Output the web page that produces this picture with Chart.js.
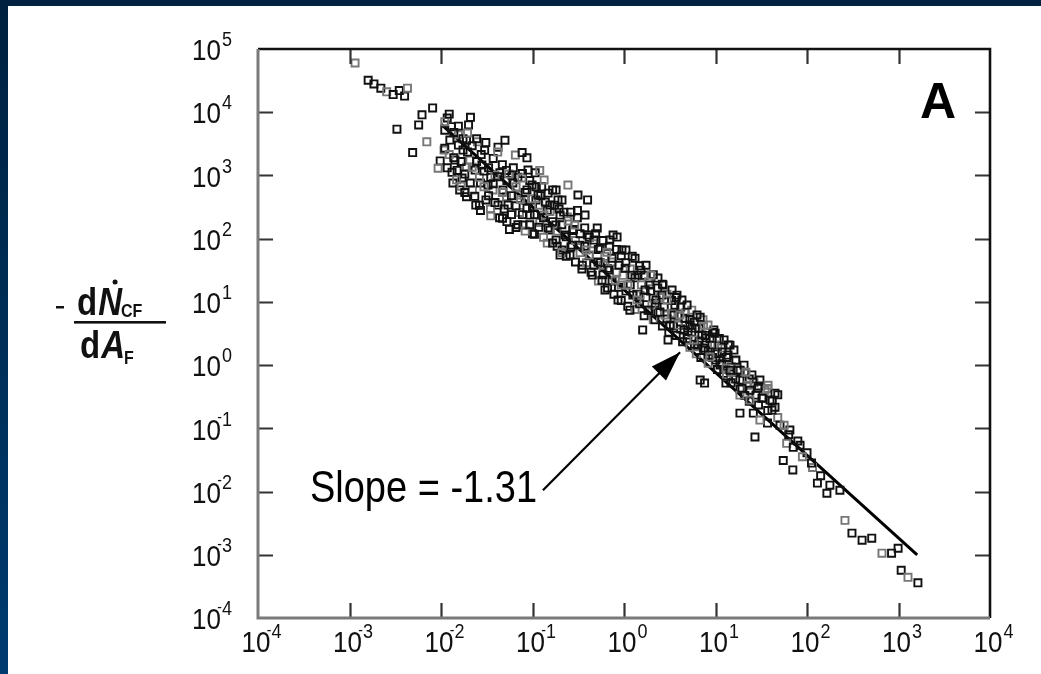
<!DOCTYPE html>
<html><head><meta charset="utf-8">
<script src="https://cdn.jsdelivr.net/npm/chart.js@4.4.1/dist/chart.umd.min.js"></script>
<style>
html,body{margin:0;padding:0;background:#fff;width:1041px;height:674px;overflow:hidden;}
#wrap{position:absolute;left:0;top:0;width:1041px;height:674px;}
#topbar{position:absolute;left:0;top:0;width:1041px;height:6px;background:#00213f;}
#leftbar{position:absolute;left:0;top:0;width:8px;height:674px;background:linear-gradient(#00213f,#003b70);}
</style></head><body>
<div id="wrap"><canvas id="c" width="1041" height="674"></canvas></div>
<div id="topbar"></div><div id="leftbar"></div>
<script>
// ---- data ----
const xTickExps = [-4,-3,-2,-1,0,1,2,3,4];
const yTickExps = [-4,-3,-2,-1,0,1,2,3,4,5];
const xTickValues = [1e-4,1e-3,1e-2,1e-1,1,1e1,1e2,1e3,1e4];
const yTickValues = [1e-4,1e-3,1e-2,1e-1,1,1e1,1e2,1e3,1e4,1e5];

const upperPoints = [
 [1.15e-3,6.0e4],[1.6e-3,3.2e4],[1.85e-3,2.8e4],[2.2e-3,2.4e4],[2.55e-3,2.1e4],[3.0e-3,1.9e4],
 [3.5e-3,2.2e4],[4.0e-3,1.8e4],[4.3e-3,2.4e4],[3.3e-3,5.4e3],[4.9e-3,2.3e3],[5.7e-3,6.3e3],
 [7.0e-3,3.4e3],[6.2e-3,9.1e3],[8.1e-3,1.17e4],[9.8e-3,1.7e3],[9.3e-3,1.3e3],[1.1e-2,5.2e3],
 [1.3e-2,5.9e3],[1.17e-2,8.1e3],[1.55e-2,4.4e3],[2.1e-2,8.3e3],[2.0e-2,6.3e3],[1.9e-2,3.6e3],
 [2.5e-2,3.4e3],[3.0e-2,2.5e3],[4.2e-2,2.8e3],[5.0e-2,3.6e3],[6.5e-2,2.1e3],[8.7e-2,1.9e3],
 [7.7e-2,2.3e3],[0.107,1.1e3],[0.12,1.2e3],[0.126,660],[0.166,590],[1.5e-2,1.2e3],
 [1.9e-2,1.35e3],[1.35e-2,760],[1.7e-2,910],[1.9e-2,460],[2.2e-2,590],[2.7e-2,760],
 [2.7e-2,280],[3.1e-2,410],[3.7e-2,590],[3.5e-2,930],[4.4e-2,1.1e3],[5.2e-2,1.2e3],
 [5.2e-2,460],[6.1e-2,760],[4.2e-2,340],[5.6e-2,140],[7.2e-2,260],[8.7e-2,590],
 [0.1,320],[0.1,120],[0.145,85],[0.145,280],[0.19,410],[0.21,66],[0.24,220],[0.28,140],
 [0.31,280],[0.18,165],[0.12,180],[8.3e-2,410],[6.6e-2,150],[4.7e-2,210],[3.5e-2,230],
 [2.4e-2,340],[1.6e-2,590],[0.40,410],
 [0.0108,2520],[0.0125,3630],[0.0142,1750],[0.0174,2520],[0.0207,1750],[0.0236,1216],
 [0.028,1460],[0.0327,705],[0.0389,1010],[0.0476,587],[0.054,340],[0.0597,1010],
 [0.0695,490],[0.0787,164],[0.094,236],[0.109,408],[0.134,236],[0.155,137],[0.181,95],[0.20,55]
];
const densePoints = [
 [1.10e-2,7.08e3],[1.10e-2,2.69e3],[1.17e-2,1.32e3],[1.23e-2,9.33e3],[1.23e-2,2.14e3],
 [1.32e-2,1.12e3],[1.38e-2,4.79e3],[1.38e-2,1.91e3],[1.48e-2,851],[1.55e-2,6.03e3],
 [1.55e-2,3.02e3],[1.66e-2,1.66e3],[1.66e-2,676],[1.74e-2,3.80e3],[1.82e-2,1.05e3],
 [1.82e-2,537],[1.95e-2,4.68e3],[1.95e-2,2.34e3],[2.09e-2,759],[2.19e-2,2.95e3],
 [2.19e-2,1.35e3],[2.34e-2,468],[2.45e-2,3.80e3],[2.45e-2,1.66e3],[2.63e-2,933],
 [2.63e-2,339],[2.75e-2,2.14e3],[2.95e-2,1.17e3],[2.95e-2,661],[3.09e-2,3.31e3],
 [3.31e-2,1.32e3],[3.31e-2,479],[3.47e-2,295],[3.72e-2,1.86e3],[3.72e-2,741],[3.89e-2,372],
 [4.17e-2,2.34e3],[4.17e-2,955],[4.37e-2,214],[4.68e-2,1.48e3],[4.68e-2,537],[4.90e-2,295],
 [5.25e-2,832],[5.25e-2,186],[5.50e-2,1.05e3],[5.89e-2,479],[5.89e-2,240],[6.17e-2,1.32e3],
 [6.61e-2,661],[6.61e-2,331],[6.92e-2,933],[6.92e-2,166],[7.41e-2,417],[7.76e-2,1.07e3],
 [7.76e-2,240],[8.32e-2,537],[8.32e-2,132],[8.71e-2,302],[9.33e-2,832],[9.33e-2,166],
 [9.77e-2,427],[0.105,240],[0.105,117],[0.110,661],[0.117,339],[0.117,151],[0.123,479],
 [0.132,214],[0.132,105],[0.138,380],[0.148,525],[0.148,148],[0.155,269],[0.166,186],
 [0.166,85.1],[0.174,339],[0.186,132],[0.186,75.9],[0.195,295],[0.209,166],[0.209,60.3],
 [0.219,263],[0.234,107],[0.234,52.5],[0.245,191],[0.263,263],[0.263,74.1],[0.275,135],
 [0.295,93.3],[0.295,42.7],[0.309,214],[0.331,120],[0.331,60.3],[0.347,33.1],[0.372,148],
 [0.372,75.9],[0.389,41.7],[0.417,105],[0.417,53.7],[0.437,29.5],[0.468,83.2],[0.468,38.0],
 [0.490,120],[0.525,67.6],[0.525,21.4],[0.550,41.7],[0.589,93.3],[0.589,26.9],[0.617,52.5],
 [0.661,33.9],[0.661,16.6],[0.692,75.9],[0.741,42.7],[0.741,21.4],[0.776,13.2],[0.832,67.6],
 [0.832,29.5],[0.871,17.0],[0.933,53.7],[0.933,10.5],[0.977,26.3],[1.05,41.7],[1.05,14.8],
 [1.10,8.51],[1.17,33.1],[1.17,18.6],[1.23,52.5],[1.32,24.0],[1.32,7.59],[1.38,13.2],
 [1.48,37.2],[1.48,9.33],[1.55,18.6],[1.66,26.3],[1.66,6.03],[1.74,11.7],[1.86,20.9],
 [1.86,7.41],[1.95,14.8],[2.09,26.9],[2.09,5.25],[2.19,9.55],[2.34,16.6],[2.34,6.76],
 [2.45,11.7],[2.63,19.1],[2.63,4.17],[2.75,8.32],[2.95,13.2],[2.95,5.37],[3.09,3.31],
 [3.31,10.5],[3.31,6.61],[3.47,4.17],[3.72,11.7],[3.72,2.95],[3.89,5.89],[4.17,8.32],
 [4.17,3.72],[4.37,2.34],[4.68,6.76],[4.68,4.27],[4.90,2.63],[5.25,5.25],[5.25,1.91],
 [5.50,3.31],[5.89,4.79],[5.89,2.14],[6.17,1.51],[6.61,3.80],[6.61,2.40],[6.92,1.32],
 [7.41,4.27],[7.41,1.86],[7.76,2.95],[8.32,1.66],[8.32,1.07],[8.71,2.63],[9.33,3.31],
 [9.33,1.32],[9.77,2.09],[10.5,1.51],[10.5,0.851],[11.0,2.63],[11.7,1.86],[11.7,1.05],
 [12.3,0.741],[13.2,1.32],[13.2,0.661],[13.8,2.09],[14.8,0.933],[14.8,0.525],[16.6,1.17],
 [16.6,0.603],[18.6,0.832],[18.6,0.417],[20.9,0.741],[20.9,0.331],[23.4,0.603],[23.4,0.269],
 [26.3,0.525],[29.5,0.468],[29.5,0.234],[33.1,0.302],[37.2,0.427],[37.2,0.191],[41.7,0.269],
 [47.9,0.339],[47.9,0.148]
];
const middlePoints = [
 [0.20,236],[0.226,114],[0.257,55],[0.29,164],[0.33,79],[0.35,38],[0.40,114],[0.42,55],
 [0.45,26.5],[0.51,147],[0.55,71],[0.59,38],[0.62,15.4],[0.70,95],[0.74,49],[0.80,22],
 [0.86,10.7],[0.95,66],[1.03,34],[1.1,18.5],[1.16,7.4],[1.32,49],[1.42,26.5],[1.5,12.8],
 [1.6,3.6],[1.74,38],[1.92,18.5],[2.02,8.9],[2.18,5.2],[2.35,23.8],[2.6,12.8],[2.8,6.2],
 [3.03,2.5],[3.35,15.4],[3.6,8.9],[3.9,4.3],[4.3,10.7],[4.65,5.5],[5.0,3.0],[5.5,7.4],
 [6.0,3.85],[6.4,2.07],[6.8,0.58],[7.3,5.2],[7.9,2.7],[8.7,1.44],[9.6,3.6],[10.6,2.07],
 [11.2,1.0],[12.4,2.5],[13.7,1.44],[15.1,0.77],[16.7,1.2],[18.5,0.58],[20.5,1.0],[22.6,0.48],
 [25,0.70],[27.7,0.335],[30.6,0.58],[34.8,0.40],[39.4,0.28],[44.7,0.36],[44.7,0.216],
 [18.5,0.335],[27,0.073],[0.84,106],[14.4,2.07],
 [0.0767,910],[0.0893,1216],[0.0989,705],[0.115,490],[0.134,845],[0.155,340],[0.181,587],
 [0.21,408],[0.244,705],[0.27,79],[0.314,490],[0.375,236],[0.385,66],[0.47,95],[0.52,42.6],
 [0.575,22],[0.65,61],[0.685,31.8],[0.76,114],[0.88,38],[0.93,18.5],[1.05,66],[1.22,26.5],
 [1.25,12.8],[1.39,10.7],[1.53,31.8],[1.7,15.4],[1.83,7.4],[1.97,26.5],[2.24,10.7],[2.47,6.9],
 [2.67,18.5],[2.95,10.7],[3.18,4.3],[3.52,6.2],[3.79,12.8],[4.09,6.2],[4.53,3.6],[4.89,8.9],
 [5.26,4.3],[5.82,2.5],[6.28,6.2],[7.11,3.0],[7.67,1.73],[8.28,4.3],[9.16,2.07],[10.1,1.2],
 [11.8,1.61],[13.0,0.90],[15.9,1.73],[17.6,0.83],[19.5,0.43],[21.5,0.77],[23.8,0.40],
 [29.1,0.43],[32.2,0.30],[37.5,0.48],[41.4,0.194]
];
const lowerPoints = [
 [6.8,5.7],[9.9,3.2],[8.7,1.34],[14.4,0.83],[7.6,0.52],[13,0.52],[23.8,0.28],[25.9,0.174],
 [37,0.121],[18.5,0.174],[60,0.058],[55,0.031],[70,0.022],[100,0.041],[115,0.024],
 [130,0.0136],[165,0.0094],[229,0.0105],[30.6,0.135],[50.7,0.112],[65,0.094],[84,0.054],
 [56.2,0.112],[63.1,0.0794],[70.8,0.0501],[79.4,0.0631],[89.1,0.0355],[112,0.0282],
 [141,0.0178],[178,0.0126]
];
const tailPoints = [
 [260,0.0035],[310,0.0022],[400,0.0017],[510,0.00183],[660,0.00106],[840,0.00106],
 [990,0.00127],[1070,0.00057],[1270,0.00044],[1630,0.00036]
];
const fitLine = [[1.0e-2,6.5e3],[1.6e3,1.0e-3]];
const arrowLine = [[0.130,0.0105],[4.1,1.6]];
const slopeText = 'Slope = -1.31';
const panelLabel = 'A';

// ---- chart ----
const FONT = '"Liberation Sans", Arial, Helvetica, sans-serif';
const SY = 1.15;
const toXY = a => a.map(p => ({x:p[0], y:p[1]}));
const allPoints = upperPoints.concat(densePoints, middlePoints, lowerPoints, tailPoints);

function drawPow(ctx, x, yMid, exp, align){
  ctx.save();
  ctx.font = '26px ' + FONT;
  const w = ctx.measureText('10').width;
  let left = align === 'right' ? x - w : x - w/2;
  ctx.translate(left, yMid);
  ctx.scale(1, SY);
  ctx.fillStyle = '#111';
  ctx.textBaseline = 'middle'; ctx.textAlign = 'left';
  ctx.fillText('10', 0, 0);
  ctx.font = '18px ' + FONT;
  ctx.textBaseline = 'alphabetic';
  ctx.fillText(String(Math.abs(exp)), w + 1, -5);
  if (exp < 0) { ctx.textAlign = 'right'; ctx.font = '14px ' + FONT; ctx.fillText('-', w + 1, -8); }
  ctx.restore();
}

const decor = {
  id: 'decor',
  afterDatasetsDraw(chart){
    const {ctx, chartArea:a, scales:{x, y}} = chart;
    ctx.save();
    // inward ticks on all four sides
    ctx.lineWidth = 2.2;
    ctx.strokeStyle = '#333';
    xTickValues.forEach(v => {
      const px = Math.round(x.getPixelForValue(v)) + 0.5;
      if (px > a.left + 2 && px < a.right - 2) {
        ctx.beginPath(); ctx.moveTo(px, a.bottom); ctx.lineTo(px, a.bottom - 15);
        ctx.moveTo(px, a.top); ctx.lineTo(px, a.top + 15); ctx.stroke();
      }
    });
    yTickValues.forEach(v => {
      const py = Math.round(y.getPixelForValue(v)) + 0.5;
      if (py > a.top + 2 && py < a.bottom - 2) {
        ctx.beginPath(); ctx.moveTo(a.left, py); ctx.lineTo(a.left + 15, py);
        ctx.moveTo(a.right, py); ctx.lineTo(a.right - 15, py); ctx.stroke();
      }
    });
    // frame: top/right dark, left/bottom grey
    ctx.lineWidth = 2.6;
    ctx.strokeStyle = '#111';
    ctx.beginPath(); ctx.moveTo(a.left, a.top); ctx.lineTo(a.right, a.top); ctx.lineTo(a.right, a.bottom); ctx.stroke();
    ctx.lineWidth = 3;
    ctx.strokeStyle = '#7a7a7a';
    ctx.beginPath(); ctx.moveTo(a.left, a.top); ctx.lineTo(a.left, a.bottom); ctx.lineTo(a.right, a.bottom); ctx.stroke();

    // arrow head at the tip of the arrow line
    const tx = x.getPixelForValue(arrowLine[1][0]), ty = y.getPixelForValue(arrowLine[1][1]);
    const sx = x.getPixelForValue(arrowLine[0][0]), sy = y.getPixelForValue(arrowLine[0][1]);
    const ang = Math.atan2(ty - sy, tx - sx);
    const L = 30, W = 10;
    ctx.fillStyle = '#000';
    ctx.beginPath();
    ctx.moveTo(tx, ty);
    ctx.lineTo(tx - L*Math.cos(ang) + W*Math.sin(ang), ty - L*Math.sin(ang) - W*Math.cos(ang));
    ctx.lineTo(tx - L*Math.cos(ang) - W*Math.sin(ang), ty - L*Math.sin(ang) + W*Math.cos(ang));
    ctx.closePath(); ctx.fill();

    // slope annotation text (its right end sits at the arrow tail)
    ctx.save();
    ctx.translate(sx - 233, sy + 12);
    ctx.scale(1, SY);
    ctx.font = '38px ' + FONT;
    ctx.fillStyle = '#000';
    ctx.textBaseline = 'alphabetic'; ctx.textAlign = 'left';
    ctx.fillText(slopeText, 0, 0);
    ctx.restore();

    // panel label
    ctx.font = 'bold 50px ' + FONT;
    ctx.fillStyle = '#000';
    ctx.textAlign = 'right'; ctx.textBaseline = 'alphabetic';
    ctx.fillText(panelLabel, a.right - 34, a.top + 69);
    ctx.restore();
  },
  afterDraw(chart){
    const {ctx, chartArea:a, scales:{x, y}} = chart;
    ctx.save();
    xTickValues.forEach((v, i) => drawPow(ctx, x.getPixelForValue(v) - 2, a.bottom + 26, xTickExps[i], 'center'));
    yTickValues.forEach((v, i) => drawPow(ctx, a.left - 37, y.getPixelForValue(v) + 3, yTickExps[i], 'right'));

    // y-axis title:  - dN(dot)_CF / dA_F
    ctx.fillStyle = '#111';
    ctx.fillRect(56, 306, 8, 2.5);
    ctx.fillRect(74, 321, 92, 2.6);
    const drawNum = (x0, base, main, sub, subDy) => {
      ctx.save();
      ctx.translate(x0, base); ctx.scale(1, SY);
      ctx.textBaseline = 'alphabetic'; ctx.textAlign = 'left';
      ctx.font = 'bold 33px ' + FONT;
      ctx.fillText('d', 0, 0);
      const w = ctx.measureText('d').width;
      ctx.font = 'italic bold 33px ' + FONT;
      ctx.fillText(main, w + 1, 0);
      const wm = ctx.measureText(main).width;
      ctx.font = 'bold 16px ' + FONT;
      ctx.fillText(sub, w + wm, subDy);
      ctx.restore();
      return w + 1 + wm/2;
    };
    const nc = drawNum(77, 315, 'N', 'CF', 2);
    ctx.beginPath(); ctx.arc(77 + nc + 5, 282, 2.5, 0, Math.PI*2); ctx.fill();
    drawNum(80, 358, 'A', 'F', 5);
    ctx.restore();
  }
};

const hiddenAxis = (min, max, fitKey, fitVal) => ({
  type: 'logarithmic', min, max, display: true,
  ticks: {display: false}, grid: {display: false, drawTicks: false}, border: {display: false},
  afterFit(s){ s[fitKey] = fitVal; }
});

new Chart(document.getElementById('c'), {
  data: {
    datasets: [
      { type: 'scatter', label: 'data', data: toXY(allPoints),
        pointStyle: 'rect', pointRadius: 5, pointHoverRadius: 5, borderWidth: 1.9,
        backgroundColor: 'rgba(255,255,255,0)',
        borderColor: c => (c.dataIndex % 4 === 0 ? '#777' : '#111') },
      { type: 'line', label: 'fit', data: toXY(fitLine), borderColor: '#000', borderWidth: 3,
        pointRadius: 0, fill: false },
      { type: 'line', label: 'arrow', data: toXY(arrowLine), borderColor: '#000', borderWidth: 2.2,
        pointRadius: 0, fill: false }
    ]
  },
  options: {
    responsive: false, animation: false, devicePixelRatio: 1,
    layout: {padding: {left: 0, top: 49, right: 51, bottom: 0}},
    plugins: {legend: {display: false}, tooltip: {enabled: false}},
    scales: {
      x: hiddenAxis(1e-4, 1e4, 'height', 56),
      y: hiddenAxis(1e-4, 1e5, 'width', 258)
    }
  },
  plugins: [decor]
});
</script>
</body></html>
